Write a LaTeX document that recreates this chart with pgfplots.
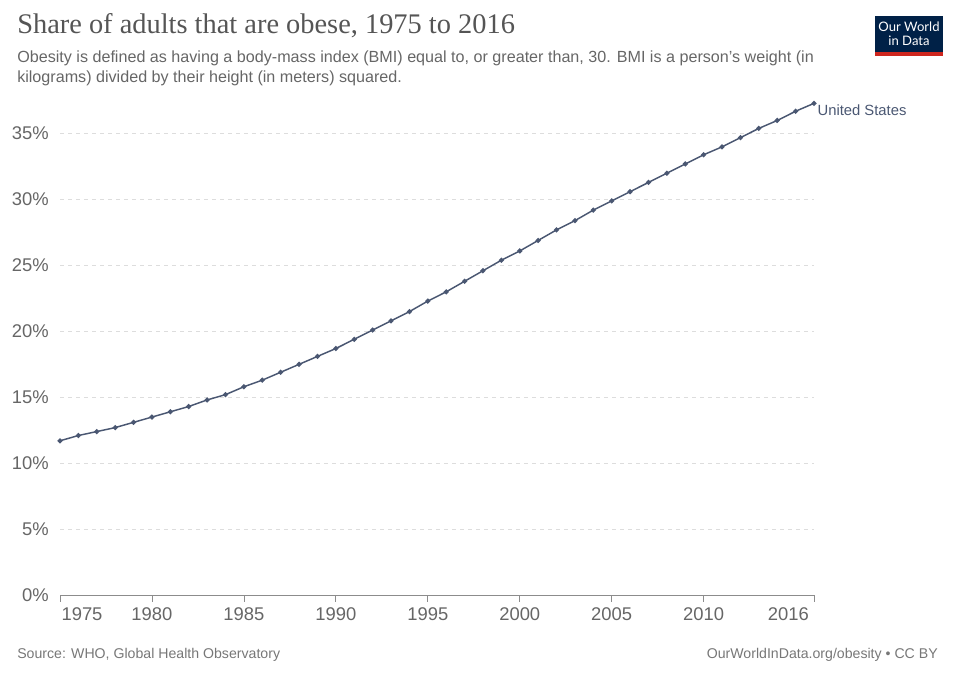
\documentclass[border=0pt]{standalone}
\usepackage{pgfplots}
\pgfplotsset{compat=1.18}
\usepackage{fontspec}
\setmainfont{Liberation Sans}
\newfontfamily\titlefont{Liberation Serif}
\newfontfamily\logofont{Lato}
\definecolor{titlecol}{HTML}{555555}
\definecolor{subcol}{HTML}{666666}
\definecolor{tickcol}{HTML}{666666}
\definecolor{srccol}{HTML}{777777}
\definecolor{linecol}{HTML}{4A5772}
\definecolor{gridcol}{HTML}{DDDDDD}
\definecolor{logoblue}{HTML}{002147}
\definecolor{logored}{HTML}{CE261E}
\pgfplotstableread{
year value
1975 11.7
1976 12.1
1977 12.4
1978 12.7
1979 13.1
1980 13.5
1981 13.9
1982 14.3
1983 14.8
1984 15.2
1985 15.8
1986 16.3
1987 16.9
1988 17.5
1989 18.1
1990 18.7
1991 19.4
1992 20.1
1993 20.8
1994 21.5
1995 22.3
1996 23.0
1997 23.8
1998 24.6
1999 25.4
2000 26.1
2001 26.9
2002 27.7
2003 28.4
2004 29.2
2005 29.9
2006 30.6
2007 31.3
2008 32.0
2009 32.7
2010 33.4
2011 34.0
2012 34.7
2013 35.4
2014 36.0
2015 36.7
2016 37.3
}\datatable
\begin{document}
\begin{tikzpicture}
\path[use as bounding box] (0,0) rectangle (720pt,-508.5pt);
% title and subtitle
\node[anchor=base west, inner sep=0pt, text=titlecol, font=\titlefont\fontsize{21.3pt}{24pt}\selectfont] at (12.75pt,-25pt) {Share of adults that are obese, 1975 to 2016};
\node[anchor=base west, inner sep=0pt, text=subcol, font=\fontsize{12.1pt}{14.25pt}\selectfont] at (12.75pt,-47.2pt) {Obesity is defined as having a body-mass index (BMI) equal to, or greater than, 30. BMI is a person{\char"27}s weight (in};
\node[anchor=base west, inner sep=0pt, text=subcol, font=\fontsize{12.1pt}{14.25pt}\selectfont] at (12.75pt,-62pt) {kilograms) divided by their height (in meters) squared.};
% logo
\fill[logoblue] (656.25pt,-12pt) rectangle (707.25pt,-42pt);
\fill[logored] (656.25pt,-39pt) rectangle (707.25pt,-42pt);
\node[text=white, align=center, inner sep=0pt, font=\logofont\fontsize{9.8pt}{10.6pt}\selectfont] at (681.75pt,-25.5pt) {Our World\\in Data};
% footer
\node[anchor=base west, inner sep=0pt, text=srccol, font=\fontsize{10.6pt}{12pt}\selectfont] at (12.75pt,-493.5pt) {Source: WHO, Global Health Observatory};
\node[anchor=base east, inner sep=0pt, text=srccol, font=\fontsize{10.6pt}{12pt}\selectfont] at (703.5pt,-493.5pt) {OurWorldInData.org/obesity • CC BY};
\begin{axis}[
  at={(45pt,-446.25pt)}, anchor=south west,
  scale only axis, width=565.5pt, height=368.25pt,
  xmin=1975, xmax=2016, ymin=0, ymax=37.25,
  separate axis lines,
  axis x line*=bottom, axis y line*=left,
  y axis line style={draw=none},
  x axis line style={draw=black!45, line width=0.6pt},
  xtick={1975,1980,1985,1990,1995,2000,2005,2010,2016},
  xticklabels={\makebox[0pt][l]{\hspace{5pt}1975}\phantom{0},1980,1985,1990,1995,2000,2005,2010,\makebox[0pt][r]{2016}\phantom{0}},
  ytick={0,5,10,15,20,25,30,35},
  yticklabel={\pgfmathprintnumber{\tick}\%},
  /pgf/number format/assume math mode=true,
  xtick style={draw=black!45, line width=0.6pt},
  ytick style={draw=none},
  tick align=outside, major tick length=5pt,
  ymajorgrids,
  major grid style={draw=gridcol, dash pattern=on 3pt off 3pt, line width=0.6pt},
  ticklabel style={text=tickcol, font=\fontsize{13.8pt}{15pt}\selectfont},
  xticklabel style={yshift=-1pt},
  yticklabel style={xshift=0pt},
  clip=false,
]
\addplot[color=linecol, line width=1.1pt, mark=*, mark size=1.3pt, mark options={fill=linecol, draw=linecol}] table[x=year, y=value] {\datatable};
\node[anchor=west, text=linecol, inner sep=0pt, font=\fontsize{11.1pt}{13pt}\selectfont] at (axis cs:2016,37.3) [xshift=2.5pt, yshift=-5pt] {United States};
\end{axis}
\end{tikzpicture}
\end{document}
